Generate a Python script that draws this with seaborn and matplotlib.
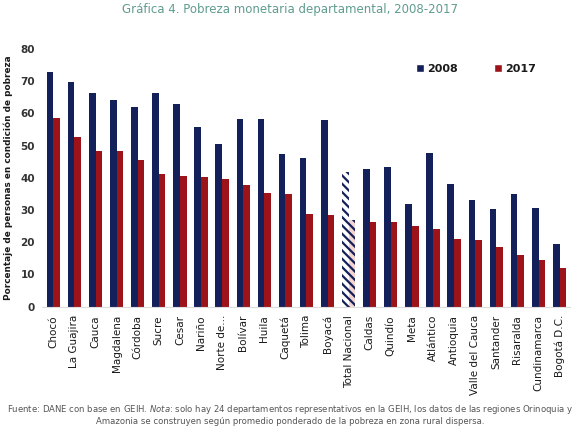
import matplotlib
matplotlib.use("Agg")
import matplotlib.pyplot as plt
import seaborn as sns
import pandas as pd
from matplotlib.patches import Patch

categories = ["Chocó", "La Guajira", "Cauca", "Magdalena", "Córdoba", "Sucre", "Cesar",
              "Nariño", "Norte de...", "Bolívar", "Huila", "Caquetá", "Tolima", "Boyacá",
              "Total Nacional", "Caldas", "Quindío", "Meta", "Atlántico", "Antioquia",
              "Valle del Cauca", "Santander", "Risaralda", "Cundinamarca", "Bogotá D.C."]
values_2008 = [72.9, 69.6, 66.2, 64.2, 61.8, 66.4, 62.9, 55.8, 50.5, 58.1, 58.3, 47.4, 46.2,
               57.9, 41.9, 42.7, 43.2, 32.0, 47.8, 38.1, 33.1, 30.3, 34.9, 30.5, 19.6]
values_2017 = [58.5, 52.5, 48.4, 48.2, 45.5, 41.3, 40.5, 40.1, 39.7, 37.9, 35.4, 34.9, 28.9,
               28.6, 26.9, 26.4, 26.2, 24.9, 24.0, 21.1, 20.8, 18.6, 16.1, 14.4, 12.1]
years = ["2008", "2017"]
highlight = "Total Nacional"

navy = "#13205a"
red = "#9c1419"

df = pd.DataFrame({
    "Departamento": categories * 2,
    "Año": [years[0]] * len(categories) + [years[1]] * len(categories),
    "Valor": values_2008 + values_2017,
})

sns.set_style("white")
plt.rcParams["font.family"] = ["DejaVu Sans"]
plt.rcParams["hatch.linewidth"] = 1.6

fig = plt.figure(figsize=(5.8, 4.32), dpi=100)
ax = fig.add_axes([0.072, 0.29, 0.911, 0.597])

sns.barplot(data=df, x="Departamento", y="Valor", hue="Año", order=categories,
            hue_order=years, palette=[navy, red], width=0.63, gap=0,
            saturation=1, ax=ax, legend=False, linewidth=0)

hi = categories.index(highlight)
for ci, cont in enumerate(ax.containers):
    p = cont.patches[hi]
    p.set_facecolor("white" if ci == 0 else "#f6d3d3")
    p.set_edgecolor(navy)
    p.set_hatch("\\\\\\\\")
    p.set_linewidth(0)

ax.set_ylim(0, 80)
ax.set_xlim(-0.55, len(categories) - 0.5)
ax.set_yticks(range(0, 81, 10))
ax.tick_params(axis="y", length=0, labelsize=7.5, labelcolor="#333333", pad=5)
ax.tick_params(axis="x", length=0, labelsize=7.5, labelcolor="#1a1a1a", pad=6)
for lab in ax.get_yticklabels():
    lab.set_fontweight("bold")
ax.set_xticks(range(len(categories)))
ax.set_xticklabels(categories, rotation=90)
ax.set_xlabel("")
ax.set_ylabel("Porcentaje de personas en condición de pobreza", fontsize=6.4,
              fontweight="bold", color="#1a1a1a", labelpad=5)
for s in ["top", "right", "left"]:
    ax.spines[s].set_visible(False)
ax.spines["bottom"].set_color("#dddddd")
ax.spines["bottom"].set_linewidth(0.8)

handles = [Patch(facecolor=navy), Patch(facecolor=red)]
leg = ax.legend(handles, years, ncol=2, frameon=False, loc="center",
                bbox_to_anchor=(0.822, 0.921), handlelength=0.7, handleheight=0.7,
                handletextpad=0.3, columnspacing=3.2, prop={"size": 8, "weight": "bold"})
for t in leg.get_texts():
    t.set_color("#1a1a1a")

fig.text(0.5, 0.977, "Gráfica 4. Pobreza monetaria departamental, 2008-2017",
         ha="center", va="center", fontsize=8.5, color="#5f9c8f")
fig.text(0.5, 0.052,
         "Fuente: DANE con base en GEIH. $\\it{Nota}$: solo hay 24 departamentos representativos en la GEIH, los datos de las regiones Orinoquia y",
         ha="center", va="center", fontsize=6.1, color="#555555")
fig.text(0.5, 0.024,
         "Amazonia se construyen según promedio ponderado de la pobreza en zona rural dispersa.",
         ha="center", va="center", fontsize=6.1, color="#555555")

fig.savefig("out.png", dpi=100)
